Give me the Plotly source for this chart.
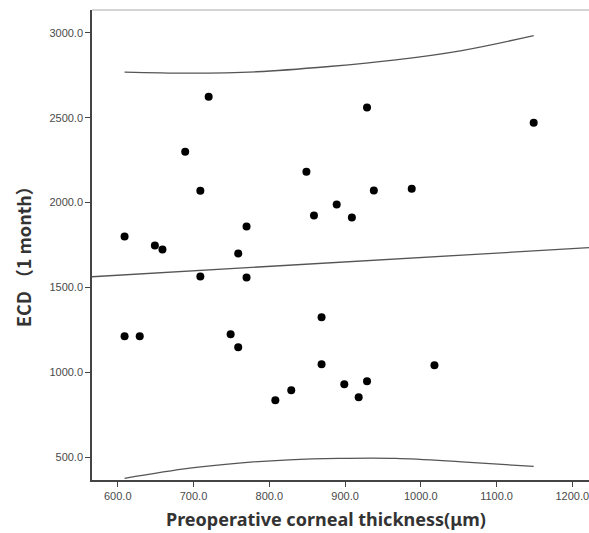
import plotly.graph_objects as go

# Scatter data: preoperative corneal thickness (µm) vs ECD at 1 month
thickness = [609, 609, 629, 649, 659, 689, 709, 709, 720, 749,
             759, 759, 770, 770, 808, 829, 849, 859, 869, 869,
             889, 899, 909, 918, 929, 929, 938, 988, 1018, 1149]
ecd = [1800, 1212, 1212, 1747, 1723, 2300, 2070, 1565, 2624, 1224,
       1700, 1147, 1859, 1559, 835, 894, 2182, 1924, 1324, 1047,
       1988, 929, 1912, 853, 2560, 947, 2071, 2082, 1041, 2471]

# Fit line
fit_x = [566, 1222]
fit_y = [1563, 1734]

# Prediction interval curves
upper_x = [609, 695, 783, 879, 967, 1054, 1149]
upper_y = [2769, 2763, 2771, 2802, 2841, 2896, 2984]
lower_x = [609, 695, 760, 826, 892, 967, 1054, 1149]
lower_y = [375, 435, 465, 484, 492, 492, 472, 445]

x_ticks = [600, 700, 800, 900, 1000, 1100, 1200]
y_ticks = [500, 1000, 1500, 2000, 2500, 3000]

line_color = "#555555"

L, T = 92, 10
PW, PH = 497, 470
W, H = 589, 533
B = H - T - PH

fig = go.Figure()
fig.add_trace(go.Scatter(x=fit_x, y=fit_y, mode="lines",
                         line=dict(color=line_color, width=1.3), hoverinfo="skip"))
fig.add_trace(go.Scatter(x=upper_x, y=upper_y, mode="lines",
                         line=dict(color=line_color, width=1.3, shape="spline"), hoverinfo="skip"))
fig.add_trace(go.Scatter(x=lower_x, y=lower_y, mode="lines",
                         line=dict(color=line_color, width=1.3, shape="spline"), hoverinfo="skip"))
fig.add_trace(go.Scatter(x=thickness, y=ecd, mode="markers",
                         marker=dict(color="black", size=8)))

fig.update_layout(
    width=W, height=H,
    margin=dict(l=L, r=0, t=T, b=B),
    paper_bgcolor="white", plot_bgcolor="white",
    showlegend=False,
    font=dict(family="Liberation Sans, Arial, sans-serif"),
)
fig.update_xaxes(
    range=[566, 1222], tickvals=x_ticks, tickformat=".1f",
    showgrid=False, zeroline=False,
    showline=True, linecolor="#444444", linewidth=1.5,
    ticks="outside", ticklen=5, tickcolor="#444444", tickwidth=1.3,
    tickfont=dict(size=11, color="#4a4a4a"),
    ticklabeloverflow="allow",
)
fig.update_yaxes(
    range=[365, 3135], tickvals=y_ticks, tickformat=".1f",
    showgrid=False, zeroline=False,
    showline=True, linecolor="#444444", linewidth=1.5,
    ticks="outside", ticklen=5, tickcolor="#444444", tickwidth=1.3,
    tickfont=dict(size=11, color="#4a4a4a"),
)
# top border
fig.add_shape(type="line", xref="paper", yref="paper", x0=0, x1=1, y0=1, y1=1,
              line=dict(color="#aaaaaa", width=1))

fig.add_annotation(text="<b>Preoperative corneal thickness(μm)</b>",
                   xref="paper", yref="paper", x=(326 - L) / PW, y=-(519 - 480) / PH,
                   xanchor="center", yanchor="middle", showarrow=False,
                   font=dict(size=18, color="#333333", family="Noto Sans, sans-serif"))
fig.add_annotation(text="<b>ECD （1 month）</b>",
                   xref="paper", yref="paper", x=-(L - 23) / PW, y=(480 - 252) / PH,
                   xanchor="center", yanchor="middle", showarrow=False, textangle=-90,
                   font=dict(size=18, color="#333333", family="Noto Sans CJK SC, Noto Sans, sans-serif"))

fig.write_html("out.html", config={"displayModeBar": False},
               post_script="document.body.style.margin='0';document.body.style.overflow='hidden';")
